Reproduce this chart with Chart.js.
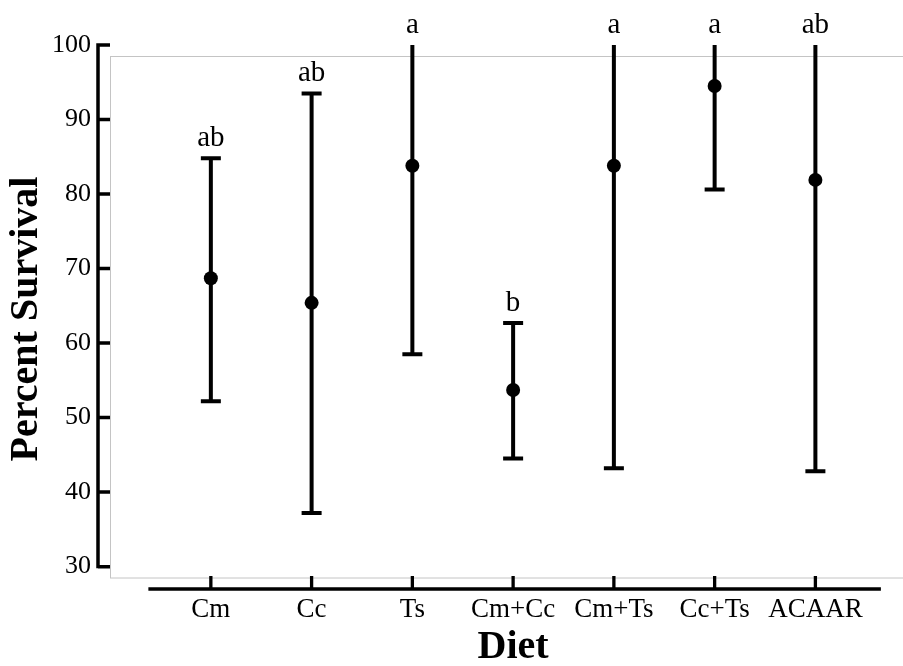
<!DOCTYPE html>
<html>
<head>
<meta charset="utf-8">
<script src="https://cdn.jsdelivr.net/npm/chart.js"></script>
<style>
  html, body { margin: 0; padding: 0; background: #fff; }
</style>
</head>
<body>
<canvas id="survivalChart" width="903" height="666"></canvas>
<script>
const diets = ["Cm", "Cc", "Ts", "Cm+Cc", "Cm+Ts", "Cc+Ts", "ACAAR"];
const survival = [68.7, 65.4, 83.8, 53.7, 83.8, 94.5, 81.9];
const upperCI = [84.8, 93.5, 100, 62.7, 100, 100, 100];
const lowerCI = [52.2, 37.2, 58.5, 44.5, 43.2, 80.6, 42.8];
const groups = ["ab", "ab", "a", "b", "a", "a", "ab"];
const yTicks = [30, 40, 50, 60, 70, 80, 90, 100];

const serif = "'Liberation Serif', 'Times New Roman', serif";

// frame, axis lines, error bars and letters drawn by hand
const decorations = {
  id: "decorations",
  beforeDraw(chart) {
    const { ctx, chartArea: a } = chart;
    ctx.save();
    ctx.fillStyle = "#fff";
    ctx.fillRect(0, 0, chart.width, chart.height);
    ctx.strokeStyle = "#c4c4c4";
    ctx.lineWidth = 1;
    ctx.strokeRect(a.left + 12.5, a.top + 11.5, chart.width, a.bottom - a.top - 22.5);
    ctx.restore();
  },
  afterDatasetsDraw(chart) {
    const { ctx, scales: { x, y } } = chart;
    ctx.save();
    ctx.strokeStyle = "#000";
    ctx.fillStyle = "#000";
    ctx.lineWidth = 4;
    ctx.font = "29px " + serif;
    ctx.textAlign = "center";
    ctx.textBaseline = "alphabetic";
    diets.forEach((d, i) => {
      const px = x.getPixelForValue(i);
      const top = y.getPixelForValue(upperCI[i]);
      const bot = y.getPixelForValue(lowerCI[i]);
      ctx.beginPath();
      ctx.moveTo(px, top);
      ctx.lineTo(px, bot);
      if (upperCI[i] < 100) {
        ctx.moveTo(px - 10, top);
        ctx.lineTo(px + 10, top);
      }
      ctx.moveTo(px - 10, bot);
      ctx.lineTo(px + 10, bot);
      ctx.stroke();
      ctx.fillText(groups[i], px, top - 12);
    });
    ctx.restore();
  },
  afterDraw(chart) {
    const { ctx, scales: { x, y } } = chart;
    ctx.save();
    ctx.strokeStyle = "#000";
    ctx.fillStyle = "#000";

    // y axis
    const left = x.left;
    ctx.lineWidth = 3.5;
    ctx.beginPath();
    ctx.moveTo(left, y.getPixelForValue(100) - 1.7);
    ctx.lineTo(left, y.getPixelForValue(30) + 1.7);
    yTicks.forEach(v => {
      const py = y.getPixelForValue(v);
      ctx.moveTo(left, py);
      ctx.lineTo(left + 12, py);
    });
    ctx.stroke();

    // x axis
    const base = y.bottom;
    ctx.lineWidth = 3.3;
    ctx.beginPath();
    ctx.moveTo(x.getPixelForValue(-0.62), base);
    ctx.lineTo(x.getPixelForValue(6.65), base);
    diets.forEach((d, i) => {
      const px = x.getPixelForValue(i);
      ctx.moveTo(px, base);
      ctx.lineTo(px, base - 13);
    });
    ctx.stroke();

    // axis titles
    ctx.font = "bold 40px " + serif;
    ctx.textAlign = "center";
    ctx.textBaseline = "middle";
    ctx.fillText("Diet", x.getPixelForValue(3), 648);
    ctx.translate(27, (y.top + y.bottom) / 2 + 2);
    ctx.rotate(-Math.PI / 2);
    ctx.fillText("Percent Survival", 0, 0);
    ctx.restore();
  }
};

const ctx = document.getElementById("survivalChart").getContext("2d");
const chart = new Chart(ctx, {
  type: "scatter",
  data: {
    datasets: [
      {
        label: "Percent Survival",
        data: survival.map((v, i) => ({ x: i, y: v })),
        backgroundColor: "#000",
        borderColor: "#000",
        pointRadius: 7,
        pointHoverRadius: 7,
        borderWidth: 0,
        clip: false
      }
    ]
  },
  options: {
    responsive: false,
    animation: false,
    layout: { padding: { top: 45, left: 0, right: 0, bottom: 0 } },
    plugins: {
      legend: { display: false },
      tooltip: { enabled: false }
    },
    scales: {
      x: {
        type: "linear",
        min: -1.12,
        max: 6.80,
        afterBuildTicks: s => { s.ticks = diets.map((d, i) => ({ value: i })); },
        afterFit: s => { s.height = 77; },
        grid: { display: false, drawTicks: false },
        border: { display: false },
        ticks: {
          autoSkip: false,
          maxRotation: 0,
          padding: 5,
          color: "#000",
          font: { family: serif, size: 27 },
          callback: v => diets[v]
        }
      },
      y: {
        type: "linear",
        min: 27,
        max: 100,
        afterBuildTicks: s => { s.ticks = yTicks.map(v => ({ value: v })); },
        afterFit: s => { s.width = 98; },
        grid: { display: false, drawTicks: false },
        border: { display: false },
        ticks: {
          padding: 7,
          color: "#000",
          font: { family: serif, size: 26 }
        }
      }
    }
  },
  plugins: [decorations]
});
</script>
</body>
</html>
